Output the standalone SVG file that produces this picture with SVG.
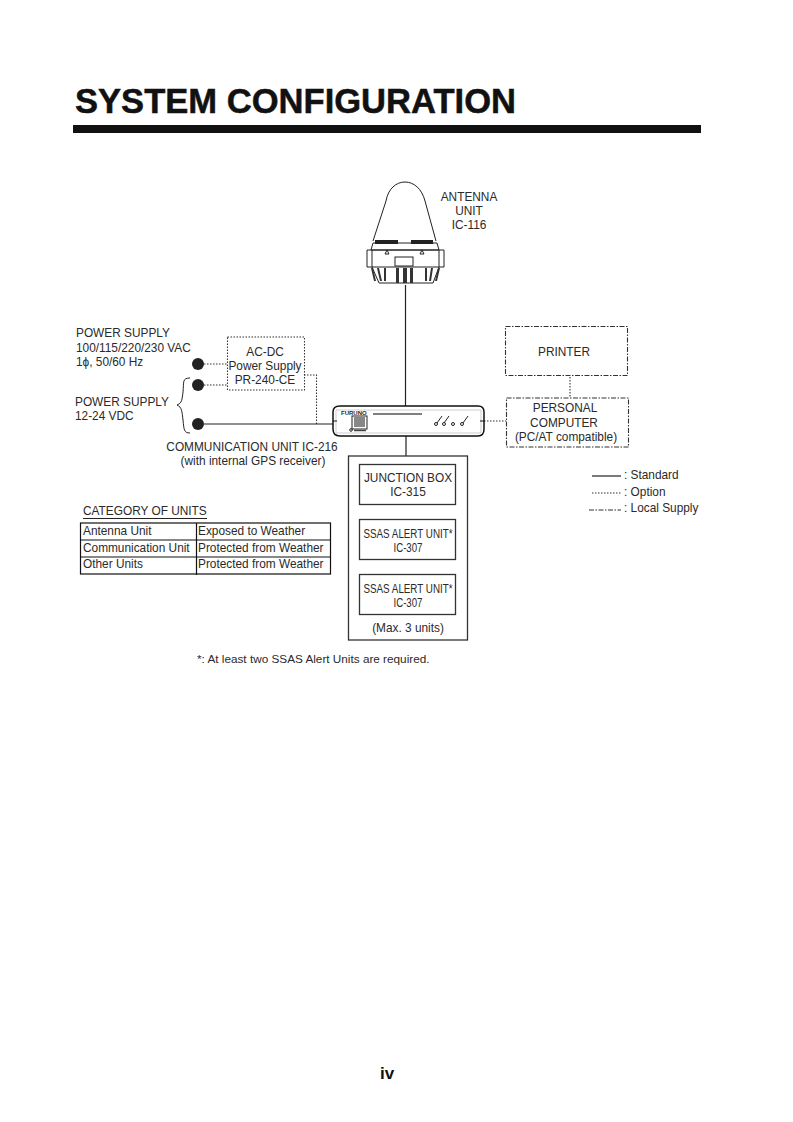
<svg xmlns="http://www.w3.org/2000/svg" width="793" height="1122" viewBox="0 0 793 1122">
<style>
text{font-family:"Liberation Sans",Arial,sans-serif;fill:#2a2a2a;font-size:11.850px}
.m{text-anchor:middle}
.s{fill:none;stroke:#222;stroke-width:1.200}
.b{fill:#fff;stroke:#333;stroke-width:1.300}
.o{fill:none;stroke:#333;stroke-width:1.100;stroke-dasharray:1.500 1.500}
.l{fill:none;stroke:#333;stroke-width:1.100;stroke-dasharray:5 1.500 1.500 1.500}
.d{fill:#222}
.a{fill:none;stroke:#222;stroke-width:1}
</style>
<rect width="793" height="1122" fill="#fff"/>
<text x="75" y="113" style="font-size:35px;font-weight:bold;fill:#111;stroke:#111;stroke-width:.5" textLength="441" lengthAdjust="spacingAndGlyphs">SYSTEM CONFIGURATION</text>
<rect x="73" y="125" width="628" height="8" fill="#111"/>
<g id="connectors">
<path class="s" d="M405.500 285V406M406 436V456M405.500 505V519M405.500 560V574"/>
<path class="s" d="M204 424H333"/>
<path class="o" d="M204 364H227M204 385H227M304 375H316.500V424M484 421H506M570 377V398"/>
</g>
<g id="antenna">
<path class="a" stroke-width="1.200" d="M373 241L386 201C388 189 396 182 405 182C414 182 422 189 425 201L436 241"/>
<path d="M375 240H398V244H375ZM411 240H433V244H411Z" fill="#222"/>
<path class="a" d="M373 243H437L439 250H371ZM367 250H444M367 250V267H372V250M439 250V267H444V250M372 267H439M372 267L379 283H433L439 267"/>
<path class="a" d="M387 250L389 254H385ZM422 250L424 254H420Z"/>
<rect class="a" x="395" y="257" width="18" height="9"/>
<path d="M371 268L374 281H376L373 268ZM377 268L380 281H382L379 268ZM384 268V281H386V268ZM396 268H399V283H396ZM403 268H407V283H403ZM410 268H413V283H410ZM425 268V281H427V268ZM431 268L429 281H431L433 268ZM438 268L435 281H437L440 268Z" fill="#333"/>
<text class="m" x="469" y="201">ANTENNA</text><text class="m" x="469" y="215">UNIT</text><text class="m" x="469" y="229">IC-116</text>
</g>
<g id="power">
<circle class="d" cx="198" cy="364" r="6"/><circle class="d" cx="198" cy="385" r="6"/><circle class="d" cx="198" cy="424" r="6"/>
<path class="a" d="M190 378C182 378 184 382 183 392C182 400 182 403 177 405C182 407 182 412 183 420C184 430 184 433 190 433"/>
<text x="76" y="337">POWER SUPPLY</text><text x="76" y="352">100/115/220/230 VAC</text><text x="76" y="366">1ϕ, 50/60 Hz</text>
<text x="75" y="406">POWER SUPPLY</text><text x="75" y="420">12-24 VDC</text>
</g>
<g id="acdc">
<rect class="o" x="227.500" y="337" width="77" height="53"/>
<text class="m" x="265" y="356">AC-DC</text><text class="m" x="265" y="370">Power Supply</text><text class="m" x="265" y="384">PR-240-CE</text>
</g>
<g id="comm">
<path d="M340 406H478Q484 406 484 412V429Q484 436 478 436H340Q333 436 333 429V412Q333 406 340 406Z" fill="#fff" stroke="#111" stroke-width="1.500"/>
<path d="M336 410H481V433H336Z" fill="none" stroke="#999" stroke-width=".5"/>
<path d="M333 421H337M480 421H484" stroke="#111"/>
<rect class="a" x="352" y="416" width="15" height="13"/><rect x="354" y="417" width="11" height="10" fill="#888"/>
<text x="341" y="415" style="font-size:6px;font-weight:bold">FURUNO</text>
<path d="M373 414H422" stroke="#555" stroke-width="1.300"/>
<path d="M354 430.500H366" stroke="#444" stroke-width="1.500"/>
<circle class="a" cx="351" cy="430" r="1.300" stroke-width=".7"/>
<path class="a" d="M437 423L442 416M444 423L449 416M463 423L468 416" stroke-width=".8"/>
<circle class="a" cx="436" cy="424" r="1.500" stroke-width=".7"/><circle class="a" cx="444" cy="424" r="1.500" stroke-width=".7"/><circle class="a" cx="453" cy="424" r="1.500" stroke-width=".7"/><circle class="a" cx="462" cy="424" r="1.500" stroke-width=".7"/>
<text class="m" x="252" y="451">COMMUNICATION UNIT IC-216</text><text class="m" x="253" y="465">(with internal GPS receiver)</text>
</g>
<g id="printer"><rect class="l" x="505.500" y="326.500" width="122" height="49"/><text class="m" x="564" y="356">PRINTER</text></g>
<g id="pc"><rect class="l" x="506.500" y="398" width="122" height="49"/>
<text class="m" x="565" y="412">PERSONAL</text><text class="m" x="564" y="427">COMPUTER</text><text class="m" x="566" y="441">(PC/AT compatible)</text></g>
<g id="group"><rect class="b" x="348.500" y="456" width="119" height="184"/><text class="m" x="408" y="632">(Max. 3 units)</text></g>
<g id="junction"><rect class="b" x="359.500" y="464.500" width="96" height="40"/><text class="m" x="408" y="482">JUNCTION BOX</text><text class="m" x="408" y="496">IC-315</text></g>
<g id="ssas1"><rect class="b" x="359.500" y="519.500" width="96" height="40"/><text class="m" x="408" y="538" style="font-size:12px" textLength="89" lengthAdjust="spacingAndGlyphs">SSAS ALERT UNIT*</text><text class="m" x="408" y="552" textLength="29" lengthAdjust="spacingAndGlyphs">IC-307</text></g>
<g id="ssas2"><rect class="b" x="359.500" y="574.500" width="96" height="40"/><text class="m" x="408" y="593" style="font-size:12px" textLength="89" lengthAdjust="spacingAndGlyphs">SSAS ALERT UNIT*</text><text class="m" x="408" y="607" textLength="29" lengthAdjust="spacingAndGlyphs">IC-307</text></g>
<g id="legend">
<path class="s" d="M592 476H621"/><path class="o" d="M592 493H621"/><path class="l" d="M589 510H621"/>
<text x="624" y="479">: Standard</text><text x="624" y="496">: Option</text><text x="624" y="512">: Local Supply</text>
</g>
<g id="category">
<text x="83" y="515">CATEGORY OF UNITS</text>
<path d="M83 518.500H207" stroke="#222"/>
<rect x="80.500" y="523" width="250" height="51" fill="none" stroke="#111" stroke-width="1.200"/>
<path d="M80 540H331M80 557H331M196.500 523V575" stroke="#111" stroke-width="1.200"/>
<text x="83" y="535">Antenna Unit</text><text x="198" y="535">Exposed to Weather</text>
<text x="83" y="552">Communication Unit</text><text x="198" y="552">Protected from Weather</text>
<text x="83" y="568">Other Units</text><text x="198" y="568">Protected from Weather</text>
</g>
<text x="197" y="663" style="font-size:11.750px">*: At least two SSAS Alert Units are required.</text>
<text class="m" x="387" y="1079" style="font-size:17px;font-weight:bold;fill:#111">iv</text>
</svg>
